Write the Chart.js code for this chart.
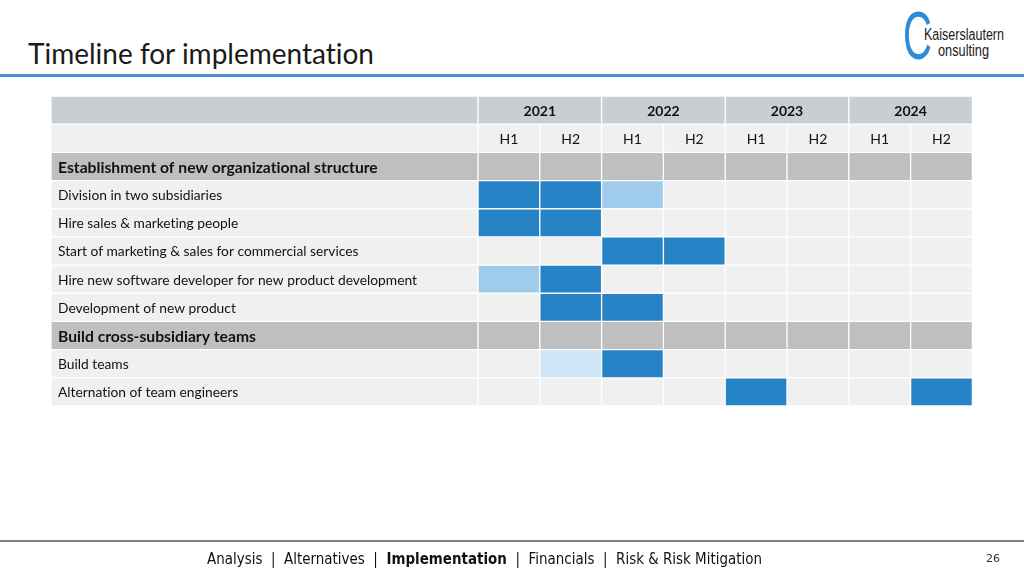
<!DOCTYPE html>
<html>
<head>
<meta charset="utf-8">
<script src="https://cdn.jsdelivr.net/npm/chart.js@4.4.1/dist/chart.umd.min.js"></script>
<style>
  html, body { margin: 0; padding: 0; background: #fff; }
  body { width: 1024px; height: 576px; position: relative; overflow: hidden; font-family: Lato, "Open Sans", sans-serif; }
  #wrap { position: absolute; left: 0; top: 0; width: 1024px; height: 576px; }
  .title { position: absolute; left: 28px; top: 39px; font-size: 28px; line-height: 1; color: #1a1a1a; font-family: Lato, sans-serif; white-space: nowrap; font-variant-ligatures: none; }
  .title-line { position: absolute; left: 0; top: 74px; width: 1024px; height: 3px; background: #4a90d0; }
  .logo-c { position: absolute; left: 903px; top: 1px; font-size: 69px; line-height: 1; color: #2e8bd8; font-family: "Liberation Sans", sans-serif; transform-origin: left top; white-space: nowrap; }
  .logo-t { position: absolute; font-size: 16px; line-height: 1; color: #1a1a1a; font-family: "Liberation Sans", sans-serif; white-space: nowrap; transform-origin: left top; }
  .foot-line { position: absolute; left: 0; top: 540px; width: 1024px; height: 2px; background: #7f7f7f; }
  .foot { position: absolute; left: 207px; top: 550px; font-size: 15px; color: #111; font-family: "DejaVu Sans", sans-serif; white-space: pre; transform-origin: left top; }
  .page { position: absolute; left: 986px; top: 552px; font-size: 11px; color: #333; font-family: "DejaVu Sans", sans-serif; }
</style>
</head>
<body>
<div class="title">Timeline for implementation</div>
<div class="title-line"></div>
<div class="logo-c" id="logoC">C</div>
<div class="logo-t" id="logo1" style="left:924px; top:27px">Kaiserslautern</div>
<div class="logo-t" id="logo2" style="left:938px; top:43px">onsulting</div>
<div id="wrap"><canvas id="c" width="1024" height="576"></canvas></div>
<div class="foot-line"></div>
<div class="foot" id="foot">Analysis  |  Alternatives  |  <b>Implementation</b>  |  Financials  |  Risk &amp; Risk Mitigation</div>
<div class="page">26</div>
<script>
// ---- data ----
const years = ['2021', '2022', '2023', '2024'];
const halves = ['H1', 'H2'];
const rows = [
  'Establishment of new organizational structure',
  'Division in two subsidiaries',
  'Hire sales & marketing people',
  'Start of marketing & sales for commercial services',
  'Hire new software developer for new product development',
  'Development of new product',
  'Build cross-subsidiary teams',
  'Build teams',
  'Alternation of team engineers'
];
const rowTypes = ['section', 'task', 'task', 'task', 'task', 'task', 'section', 'task', 'task'];
// status per half-year (2021 H1 ... 2024 H2): 0 = none, 1 = planned, 2 = tentative, 3 = preparation
const establishment   = [0, 0, 0, 0, 0, 0, 0, 0];
const divisionTwo     = [1, 1, 2, 0, 0, 0, 0, 0];
const hireSales       = [1, 1, 0, 0, 0, 0, 0, 0];
const startMarketing  = [0, 0, 1, 1, 0, 0, 0, 0];
const hireDevelopers  = [2, 1, 0, 0, 0, 0, 0, 0];
const developProduct  = [0, 1, 1, 0, 0, 0, 0, 0];
const crossTeams      = [0, 0, 0, 0, 0, 0, 0, 0];
const buildTeams      = [0, 3, 1, 0, 0, 0, 0, 0];
const alternation     = [0, 0, 0, 0, 1, 0, 0, 1];
const schedule = [establishment, divisionTwo, hireSales, startMarketing, hireDevelopers, developProduct, crossTeams, buildTeams, alternation];

// ---- fit decorative text to widths (layout only) ----
function fitWidth(id, w, h) {
  const el = document.getElementById(id);
  const r = el.getBoundingClientRect();
  const sx = w / r.width, sy = h ? h / r.height : 1;
  el.style.transform = 'scale(' + sx + ',' + sy + ')';
}
fitWidth('logoC', 29);
fitWidth('logo1', 80);
fitWidth('logo2', 51);
fitWidth('foot', 555);

// ---- styling ----
const COL_W = 61.8;
const LABEL_W = 427 / COL_W; // label column width in half-year units
const C_HEAD = '#c9ced2', C_CELL = '#f0f0f0', C_SECTION = '#bfbfbf';
const statusColors = { 1: '#2683c6', 2: '#a0ccec', 3: '#cfe4f5' };

const yLabels = ['__year', '__half'].concat(rows);
const nHalf = years.length * halves.length;

// background grid cells
const bgData = [], bgColors = [];
function addBg(y, a, b, col) { bgData.push({ y: y, x: [a, b] }); bgColors.push(col); }
addBg('__year', -LABEL_W, 0, C_HEAD);
years.forEach((yr, i) => addBg('__year', i * 2, i * 2 + 2, C_HEAD));
addBg('__half', -LABEL_W, 0, C_CELL);
for (let j = 0; j < nHalf; j++) addBg('__half', j, j + 1, C_CELL);
rows.forEach((r, i) => {
  const col = rowTypes[i] === 'section' ? C_SECTION : C_CELL;
  addBg(r, -LABEL_W, 0, col);
  for (let j = 0; j < nHalf; j++) addBg(r, j, j + 1, col);
});

function statusData(code) {
  const d = [];
  rows.forEach((r, i) => schedule[i].forEach((v, j) => { if (v === code) d.push({ y: r, x: [j, j + 1] }); }));
  return d;
}
const barBase = { borderColor: '#ffffff', borderWidth: 1, borderSkipped: false, barPercentage: 1, categoryPercentage: 1, grouped: false };

const textPlugin = {
  id: 'cellText',
  afterDatasetsDraw(chart) {
    const ctx = chart.ctx, xs = chart.scales.x, ys = chart.scales.y;
    ctx.save();
    try { ctx.textRendering = 'optimizeSpeed'; } catch (e) {}
    ctx.fillStyle = '#111';
    ctx.textBaseline = 'middle';
    ctx.textAlign = 'center';
    ctx.font = 'bold 14px Lato, sans-serif';
    const yy = ys.getPixelForValue(0);
    years.forEach((yr, i) => ctx.fillText(yr, xs.getPixelForValue(i * 2 + 1), yy + 1));
    ctx.font = '14px Lato, sans-serif';
    const yh = ys.getPixelForValue(1);
    for (let j = 0; j < nHalf; j++) ctx.fillText(halves[j % 2], xs.getPixelForValue(j + 0.5), yh + 1);
    ctx.textAlign = 'left';
    rows.forEach((r, i) => {
      const y = ys.getPixelForValue(i + 2);
      ctx.font = rowTypes[i] === 'section' ? 'bold 15.7px Lato, sans-serif' : '13.8px Lato, sans-serif';
      ctx.fillText(r, chart.chartArea.left + 7, y + 1);
    });
    ctx.restore();
  }
};

new Chart(document.getElementById('c'), {
  type: 'bar',
  data: {
    labels: yLabels,
    datasets: [
      Object.assign({ label: 'planned', data: statusData(1), backgroundColor: statusColors[1], order: 1 }, barBase),
      Object.assign({ label: 'tentative', data: statusData(2), backgroundColor: statusColors[2], order: 1 }, barBase),
      Object.assign({ label: 'preparation', data: statusData(3), backgroundColor: statusColors[3], order: 1 }, barBase),
      Object.assign({ label: 'grid', data: bgData, backgroundColor: bgColors, order: 5 }, barBase)
    ]
  },
  options: {
    indexAxis: 'y',
    responsive: false,
    animation: false,
    layout: { padding: { left: 51, right: 1024 - 478 - 8 * COL_W, top: 96, bottom: 170 } },
    plugins: { legend: { display: false }, tooltip: { enabled: false } },
    scales: {
      x: { type: 'linear', min: -LABEL_W, max: nHalf, display: false },
      y: { type: 'category', display: false, offset: true }
    }
  },
  plugins: [textPlugin]
});
</script>
</body>
</html>
